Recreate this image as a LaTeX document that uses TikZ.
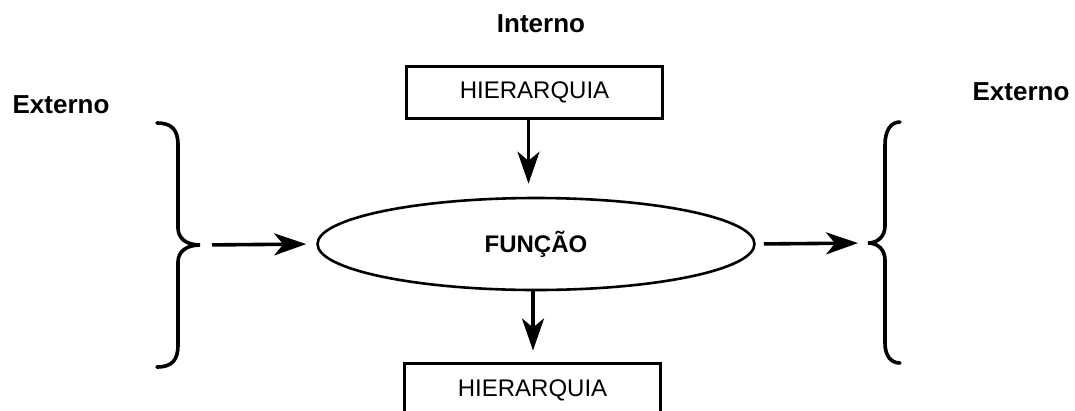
\documentclass[tikz,border=0pt]{standalone}
\usepackage{fontspec}
\setmainfont{Liberation Sans}
\usetikzlibrary{arrows.meta,shapes.geometric}
\begin{document}
\begin{tikzpicture}[x=1pt,y=-1pt,
  label/.style={font=\fontsize{26}{30}\selectfont\bfseries, inner sep=0pt},
  hbox/.style={draw, line width=3pt, minimum width=256pt, minimum height=52pt,
    inner sep=0pt, font=\fontsize{24}{28}\selectfont},
  func/.style={draw, ellipse, line width=2.6pt, minimum width=437pt, minimum height=92pt,
    inner sep=0pt, font=\fontsize{24}{28}\selectfont\bfseries},
  flow/.style={line width=3.6pt, -{Stealth[length=32pt,width=22pt,inset=9pt]}},
  brace/.style={line width=3.6pt, line cap=round}]
  \useasboundingbox (0,0) rectangle (1075,410);
  \clip (0,0) rectangle (1075,410);

  % labels
  \node[label] (int) at (541,24) {Interno};
  \node[label] (extl) at (61,105) {Externo};
  \node[label] (extr) at (1021,92) {Externo};

  % boxes and the central ellipse
  \node[hbox] (top) at (534.5,92) {\raisebox{-3pt}{HIERARQUIA}};
  \node[func] (fn) at (536,244) {FUNÇÃO};
  \node[hbox, minimum height=54pt] (bot) at (532.5,390) {HIERARQUIA};

  % braces
  \coordinate (lb) at (200,245);
  \coordinate (rb) at (868,243);
  \draw[brace] (157,123) .. controls (172,123) and (178,130) .. (178,145)
    -- (178,228) .. controls (178,238) and (186,245) .. (lb)
    .. controls (186,245) and (178,252) .. (178,262)
    -- (178,345) .. controls (178,360) and (172,367) .. (157,367);
  \draw[brace] (900,122) .. controls (891,122) and (885,130) .. (885,145)
    -- (885,226) .. controls (885,236) and (878,243) .. (rb)
    .. controls (878,243) and (885,250) .. (885,260)
    -- (885,343) .. controls (885,356) and (891,363) .. (900,363);

  % connectors
  \draw[flow, shorten <=12pt, shorten >=10pt] (lb) -- (fn.west);
  \draw[flow, shorten <=8pt, shorten >=10pt] (fn.east) -- (rb);
  \draw[flow, shorten >=13pt] ([xshift=-6pt]top.south) -- ([xshift=-6pt]top.south |- fn.north);
  \draw[flow, shorten >=11pt] ([xshift=-3pt]fn.south) -- ([xshift=-3pt]fn.south |- bot.north);
\end{tikzpicture}
\end{document}
